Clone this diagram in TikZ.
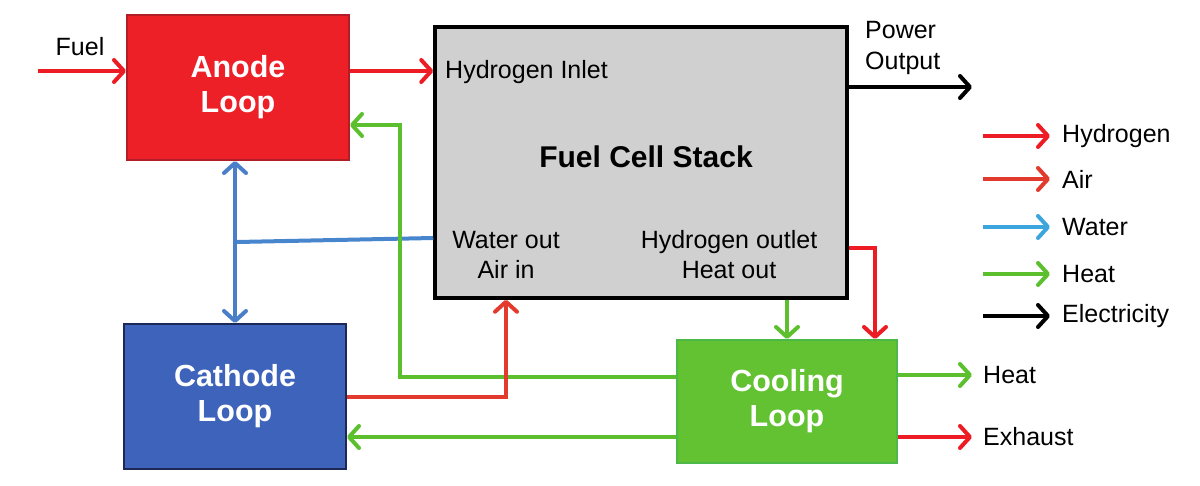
\documentclass[tikz,border=0pt]{standalone}
\usepackage{fontspec}
\setmainfont{Liberation Sans}
\usetikzlibrary{arrows.meta,calc}
\definecolor{hred}{HTML}{ED1C24}
\definecolor{ared}{HTML}{E33A2E}
\definecolor{wblue}{HTML}{4A7EC8}
\definecolor{lblue}{HTML}{3DA5DE}
\definecolor{hgreen}{HTML}{5CC02E}
\definecolor{anodefill}{HTML}{ED2028}
\definecolor{anodeline}{HTML}{B11E28}
\definecolor{cathfill}{HTML}{3D63BA}
\definecolor{cathline}{HTML}{1E2856}
\definecolor{coolfill}{HTML}{62C232}
\definecolor{coolline}{HTML}{4DB84A}
\definecolor{stackfill}{HTML}{D0D0D0}
\tikzset{
  tip/.style={-{Straight Barb[length=10pt,width=22pt,round]}},
  flow/.style={line width=4pt,tip},
  hflow/.style={flow,draw=hred},
  aflow/.style={flow,draw=ared},
  wflow/.style={flow,draw=wblue},
  gflow/.style={flow,draw=hgreen},
  eflow/.style={flow,draw=black},
  loopbox/.style={line width=2pt,inner sep=0pt,text=white,align=center,
    font=\fontsize{30.5}{35}\selectfont\bfseries},
  lbl/.style={inner sep=0pt,font=\fontsize{25}{30}\selectfont,text=black}
}
\begin{document}
\begin{tikzpicture}[x=1pt,y=-1pt]
\useasboundingbox (0,0) rectangle (1200,485);
% boxes
\node[loopbox,fill=anodefill,draw=anodeline,minimum width=222pt,minimum height=145pt] (anode) at (238,87.5) {Anode\\Loop};
\node[loopbox,fill=cathfill,draw=cathline,minimum width=222pt,minimum height=145pt] (cath) at (235,396.5) {Cathode\\Loop};
\node[loopbox,fill=coolfill,draw=coolline,minimum width=220pt,minimum height=123pt] (cool) at (787,401.5) {Cooling\\Loop};
\node[fill=stackfill,draw=black,line width=3.5pt,minimum width=412pt,minimum height=271pt,inner sep=0pt] (stack) at (641,162.5) {};
% stack texts
\node[lbl,anchor=west] (h2in) at (445,72) {Hydrogen Inlet};
\node[lbl,font=\fontsize{30}{34}\selectfont\bfseries] (fcs) at (646,157) {Fuel Cell Stack};
\node[lbl,align=center] (wout) at (506,255) {Water out\\Air in};
\node[lbl,align=center] (hout) at (729,255) {Hydrogen outlet\\Heat out};
% fuel
\coordinate (fuelsrc) at (38,71);
\node[lbl] (fuel) at (80,47) {Fuel};
\draw[hflow] (fuelsrc) -- (fuelsrc -| anode.west);
\draw[hflow] (anode.east |- fuelsrc) -- (stack.west |- fuelsrc);
% power
\coordinate (pwr) at (972,87);
\node[lbl,align=left,anchor=west,font=\fontsize{25}{31}\selectfont] (pout) at (865,48) {Power\\Output};
\draw[eflow] (stack.east |- pwr) -- (pwr);
% water
\coordinate (wj) at (237,242);
\draw[wflow,{Straight Barb[length=10pt,width=22pt,round]}-{Straight Barb[length=10pt,width=22pt,round]}] (cath.north |- anode.south) -- (cath.north);
\draw[line width=4pt,draw=wblue!80!lblue] (wj) -- ($(stack.west)+(0,75.5)$);
% heat return to anode
\coordinate (g1) at (400,377);
\coordinate (g2) at (400,125);
\draw[gflow] (cool.west |- g1) -- (g1) -- (g2) -- (anode.east |- g2);
% air to stack
\coordinate (r1) at (506,397);
\draw[aflow] (cath.east |- r1) -- (r1) -- (r1 |- stack.south);
% heat to cathode
\coordinate (g3) at (600,437);
\draw[gflow] (cool.west |- g3) -- (cath.east |- g3);
% heat out of stack
\coordinate (g4) at (787,300);
\draw[gflow] (g4) -- (g4 |- cool.north);
% hydrogen outlet
\coordinate (r2) at (875,248);
\draw[hflow] (stack.east |- r2) -- (r2) -- (r2 |- cool.north);
% outputs
\coordinate (heatend) at (972,375);
\coordinate (exend) at (972,437);
\draw[gflow] (cool.east |- heatend) -- (heatend);
\draw[hflow] (cool.east |- exend) -- (exend);
\node[lbl,anchor=west] (heatl) at (983,375) {Heat};
\node[lbl,anchor=west] (exl) at (983,437) {Exhaust};
% legend
\coordinate (L1a) at (983,136); \coordinate (L1b) at (1050,136);
\coordinate (L2a) at (983,179); \coordinate (L2b) at (1050,179);
\coordinate (L3a) at (983,227); \coordinate (L3b) at (1050,227);
\coordinate (L4a) at (983,274); \coordinate (L4b) at (1050,274);
\coordinate (L5a) at (983,316); \coordinate (L5b) at (1050,316);
\draw[hflow] (L1a) -- (L1b);
\draw[aflow] (L2a) -- (L2b);
\draw[flow,draw=lblue] (L3a) -- (L3b);
\draw[gflow] (L4a) -- (L4b);
\draw[eflow] (L5a) -- (L5b);
\node[lbl,anchor=west] (leg1) at (1062,136) {Hydrogen};
\node[lbl,anchor=west] (leg2) at (1062,179) {Air};
\node[lbl,anchor=west] (leg3) at (1062,227) {Water};
\node[lbl,anchor=west] (leg4) at (1062,274) {Heat};
\node[lbl,anchor=west] (leg5) at (1062,316) {Electricity};
\end{tikzpicture}
\end{document}
